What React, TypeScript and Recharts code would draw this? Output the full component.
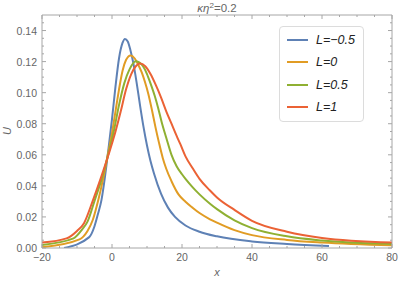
import { LineChart, Line, XAxis, YAxis, Legend } from 'recharts'

// series: [x, U]
const seriesNames = ['L=−0.5', 'L=0', 'L=0.5', 'L=1']
const seriesColors = ['#5e81b5', '#e19c24', '#8fb032', '#eb6235']

const blueX = [-13.7, -6.5, -5, -4, -3, -2, -1, 0, 1, 2, 3, 3.7, 4.5, 5.3, 6.1, 7, 8, 9, 10, 11, 12, 14, 16, 18, 21, 25, 30, 40, 50, 62]
const blueY = [0, 0.007, 0.014, 0.022, 0.031, 0.046, 0.064, 0.083, 0.104, 0.122, 0.132, 0.1346, 0.133, 0.127, 0.119, 0.107, 0.092, 0.078, 0.066, 0.056, 0.048, 0.035, 0.026, 0.02, 0.0145, 0.0105, 0.0075, 0.0042, 0.0026, 0.0013]

const orangeX = [-20, -9.3, -7, -5.5, -3.9, -2.5, -1.2, 0, 1, 2, 3, 4, 5.3, 6.5, 7.5, 8.5, 9.4, 10.4, 11.4, 12.4, 13.4, 14.5, 15.5, 17, 19, 21, 23, 25, 28, 30, 35, 40, 50, 60, 80]
const orangeY = [0.0005, 0.0056, 0.011, 0.018, 0.031, 0.045, 0.06, 0.074, 0.088, 0.102, 0.114, 0.121, 0.124, 0.122, 0.118, 0.113, 0.107, 0.099, 0.089, 0.078, 0.068, 0.058, 0.051, 0.043, 0.0345, 0.0298, 0.026, 0.0225, 0.0185, 0.0163, 0.0115, 0.0083, 0.0052, 0.0035, 0.0017]

const greenX = [-20, -11, -8.5, -7, -4.9, -3, -1.1, 0.5, 2, 3.5, 5, 6.8, 8.5, 10, 11, 12.2, 13.2, 14.2, 15.5, 17, 18.5, 20, 21, 23, 25, 28, 30, 35, 40, 50, 60, 80]
const greenY = [0.002, 0.0062, 0.012, 0.017, 0.031, 0.044, 0.06, 0.075, 0.092, 0.106, 0.115, 0.1202, 0.118, 0.112, 0.106, 0.098, 0.09, 0.081, 0.071, 0.06, 0.0525, 0.0475, 0.0445, 0.0392, 0.0345, 0.0285, 0.025, 0.0178, 0.0128, 0.0075, 0.0048, 0.0026]

const redX = [-20, -13, -10, -8, -5.4, -3.2, -1, 1, 2.5, 4, 5.5, 6.8, 8, 9.5, 11, 12.5, 14, 15.5, 17, 18.5, 19.5, 21, 23, 25, 28, 30, 35, 40, 50, 60, 80]
const redY = [0.0035, 0.0062, 0.011, 0.016, 0.031, 0.045, 0.06, 0.075, 0.088, 0.102, 0.112, 0.117, 0.1187, 0.117, 0.112, 0.105, 0.097, 0.088, 0.08, 0.072, 0.067, 0.059, 0.0515, 0.0445, 0.037, 0.0325, 0.0245, 0.0175, 0.0105, 0.0065, 0.0035]

const xTicks = [-20, -15, -10, -5, 0, 5, 10, 15, 20, 25, 30, 35, 40, 45, 50, 55, 60, 65, 70, 75, 80]
const xMajor = [-20, 0, 20, 40, 60, 80]
const yTicks = [0, 0.005, 0.01, 0.015, 0.02, 0.025, 0.03, 0.035, 0.04, 0.045, 0.05, 0.055, 0.06, 0.065, 0.07, 0.075, 0.08, 0.085, 0.09, 0.095, 0.1, 0.105, 0.11, 0.115, 0.12, 0.125, 0.13, 0.135, 0.14, 0.145]
const yMajor = [0, 0.02, 0.04, 0.06, 0.08, 0.1, 0.12, 0.14]

const toPoints = (xs: number[], ys: number[]) => xs.map((x, i) => ({ x, y: ys[i] }))
const series = [
  toPoints(blueX, blueY),
  toPoints(orangeX, orangeY),
  toPoints(greenX, greenY),
  toPoints(redX, redY),
]

const FRAME = '#a6a6a6'
const LABEL = '#666'
const FONT = '"Liberation Sans", Arial, sans-serif'

const minus = (s: string) => s.replace('-', '−')

function makeTick(side: 'bottom' | 'top' | 'left' | 'right') {
  return (props: any) => {
    const { x, y, payload } = props
    const v = payload.value
    const isX = side === 'bottom' || side === 'top'
    const major = isX ? xMajor.includes(v) : yMajor.some((m) => Math.abs(m - v) < 1e-9)
    const len = major ? 4 : 2
    let line
    if (side === 'bottom') line = <line x1={x} x2={x} y1={y} y2={y - len} stroke={FRAME} />
    else if (side === 'top') line = <line x1={x} x2={x} y1={y} y2={y + len} stroke={FRAME} />
    else if (side === 'left') line = <line x1={x} x2={x + len} y1={y} y2={y} stroke={FRAME} />
    else line = <line x1={x} x2={x - len} y1={y} y2={y} stroke={FRAME} />
    let label = null
    if (major && side === 'bottom') {
      label = <text x={x} y={y + 13} textAnchor="middle" fill={LABEL} fontSize={10.5} fontFamily={FONT}>{minus(String(v))}</text>
    } else if (major && side === 'left') {
      label = <text x={x - 5} y={y + 4} textAnchor="end" fill={LABEL} fontSize={10.5} fontFamily={FONT}>{v.toFixed(2)}</text>
    }
    return <g>{line}{label}</g>
  }
}

function LegendBox(props: any) {
  const items = [...(props.payload || [])].sort(
    (a: any, b: any) => seriesNames.indexOf(a.value) - seriesNames.indexOf(b.value)
  )
  return (
    <div style={{ background: '#fff', border: '1px solid #dcdcdc', borderRadius: 4, padding: '2px 8px 3px 7px', width: 68 }}>
      {items.map((it: any) => (
        <div key={it.value} style={{ height: 22.3, display: 'flex', alignItems: 'center' }}>
          <span style={{ display: 'inline-block', width: 21, height: 2, background: it.color, marginRight: 8 }} />
          <span style={{ fontFamily: FONT, fontStyle: 'italic', fontSize: 12.5, color: '#222' }}>{it.value}</span>
        </div>
      ))}
    </div>
  )
}

export default function App() {
  return (
    <div style={{ position: 'absolute', left: 0, top: 0, width: 399, height: 282, background: '#fff' }}>
      <LineChart width={399} height={282} margin={{ top: 14, right: 6, bottom: 0, left: 0 }}>
        <XAxis xAxisId={0} dataKey="x" type="number" domain={[-20, 80]} allowDataOverflow ticks={xTicks} interval={0}
          tickSize={0} tickMargin={0} height={34} stroke={FRAME} tick={makeTick('bottom')} />
        <XAxis xAxisId="top" orientation="top" dataKey="x" type="number" domain={[-20, 80]} allowDataOverflow ticks={xTicks} interval={0}
          tickSize={0} tickMargin={0} height={1} stroke={FRAME} tick={makeTick('top')} />
        <YAxis yAxisId={0} type="number" domain={[0, 0.15]} allowDataOverflow ticks={yTicks} interval={0}
          tickSize={0} tickMargin={0} width={42} stroke={FRAME} tick={makeTick('left')} />
        <YAxis yAxisId="right" orientation="right" type="number" domain={[0, 0.15]} allowDataOverflow ticks={yTicks} interval={0}
          tickSize={0} tickMargin={0} width={1} stroke={FRAME} tick={makeTick('right')} />
        <Legend layout="vertical" align="center" verticalAlign="middle" content={<LegendBox />}
          wrapperStyle={{ position: 'absolute', left: 279, top: 26, width: 'auto', height: 'auto' }} />
        {series.map((d, i) => (
          <Line key={seriesNames[i]} data={d} dataKey="y" name={seriesNames[i]} type="monotone"
            stroke={seriesColors[i]} strokeWidth={2} dot={false} isAnimationActive={false} />
        ))}
      </LineChart>
      <svg width={399} height={282} style={{ position: 'absolute', left: 0, top: 0, pointerEvents: 'none' }}>
        <text x={217} y={12} textAnchor="middle" fill={LABEL} fontSize={11.5} fontFamily={FONT}>
          <tspan fontStyle="italic">κη</tspan><tspan dy={-4} fontSize={8}>2</tspan><tspan dy={4}>=0.2</tspan>
        </text>
        <text x={217} y={276} textAnchor="middle" fill={LABEL} fontSize={11} fontStyle="italic" fontFamily={FONT}>x</text>
        <text x={11} y={131} textAnchor="middle" fill={LABEL} fontSize={11} fontStyle="italic" fontFamily={FONT}
          transform="rotate(-90 11 131)">U</text>
      </svg>
    </div>
  )
}
